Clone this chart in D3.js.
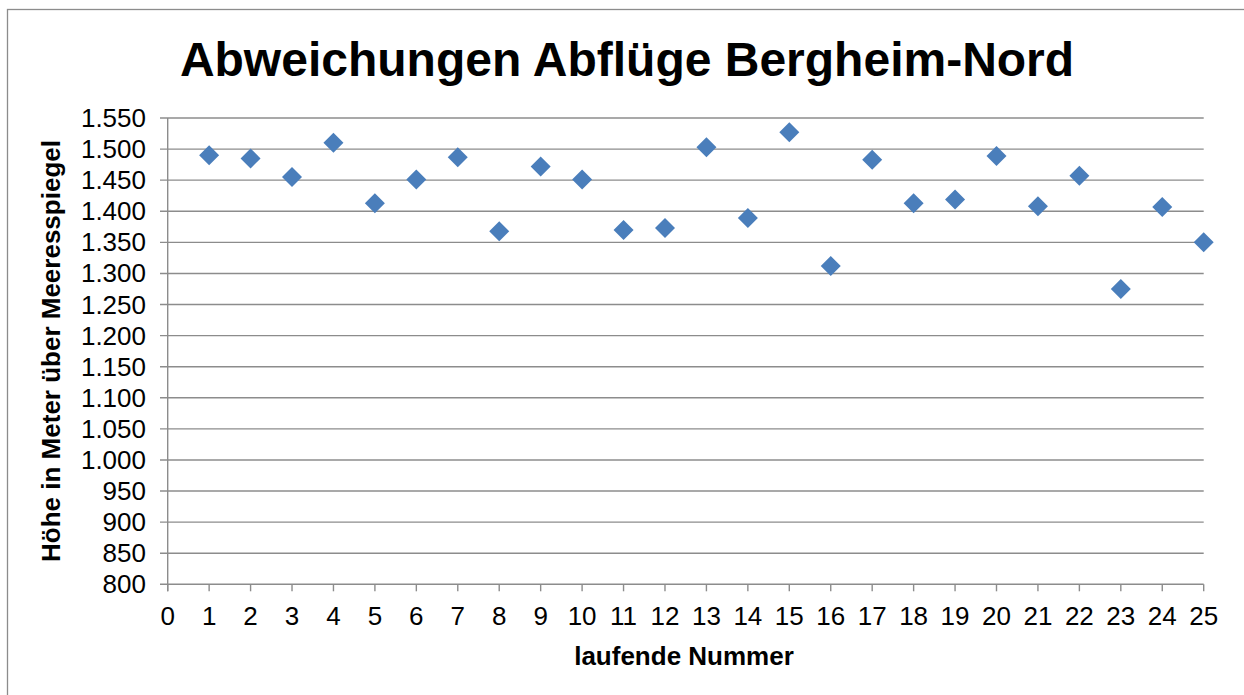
<!DOCTYPE html>
<html><head><meta charset="utf-8">
<script src="https://cdn.jsdelivr.net/npm/d3@7"></script>
<style>body{margin:0;background:#fff}svg{display:block}text{font-family:"Liberation Sans",Arial,sans-serif}</style>
</head><body>
<script>
const numbers = d3.range(1, 26);
const heights = [1490,1485,1455,1510,1413,1451,1487,1368,1472,1451,1370,1373,1503,1389,1527,1312,1483,1413,1419,1489,1408,1457,1275,1407,1350];
const yTicks = d3.range(800, 1551, 50);
const xTicks = d3.range(0, 26, 1);
const title = "Abweichungen Abflüge Bergheim-Nord";
const xTitle = "laufende Nummer";
const yTitle = "Höhe in Meter über Meeresspiegel";

const W = 1244, H = 695;
const svg = d3.select("body").append("svg").attr("width", W).attr("height", H);
svg.append("rect").attr("x", 7.5).attr("y", 9.5).attr("width", W + 10).attr("height", H + 10)
  .attr("fill", "none").attr("stroke", "#8c8c8c").attr("stroke-width", 1.3);

const x = d3.scaleLinear().domain([0, 25]).range([167.7, 1203.7]);
const y = d3.scaleLinear().domain([800, 1550]).range([584.3, 118]);
const fmt = d => d3.format(",")(d).replace(/,/g, ".");

// gridlines
svg.append("g").selectAll("line").data(yTicks).join("line")
  .attr("x1", 160).attr("x2", x(25)).attr("y1", d => y(d)).attr("y2", d => y(d))
  .attr("stroke", "#8c8c8c").attr("stroke-width", 1.4);

// y axis line
svg.append("line").attr("x1", x(0)).attr("x2", x(0)).attr("y1", y(1550)).attr("y2", y(800) + 7)
  .attr("stroke", "#8c8c8c").attr("stroke-width", 1.4);
// x ticks
svg.append("g").selectAll("line").data(xTicks).join("line")
  .attr("x1", d => x(d)).attr("x2", d => x(d)).attr("y1", y(800)).attr("y2", y(800) + 7)
  .attr("stroke", "#8c8c8c").attr("stroke-width", 1.4);

// tick labels
svg.append("g").selectAll("text").data(yTicks).join("text")
  .attr("x", 146).attr("y", d => y(d) + 9).attr("text-anchor", "end")
  .attr("font-size", 26).attr("fill", "#000").text(fmt);
svg.append("g").selectAll("text").data(xTicks).join("text")
  .attr("x", d => x(d)).attr("y", 625).attr("text-anchor", "middle")
  .attr("font-size", 26).attr("fill", "#000").text(d => d);

// titles
svg.append("text").attr("x", 627).attr("y", 76).attr("text-anchor", "middle")
  .attr("font-size", 48).attr("font-weight", "bold").text(title);
svg.append("text").attr("x", 684).attr("y", 665).attr("text-anchor", "middle")
  .attr("font-size", 26).attr("font-weight", "bold").text(xTitle);
svg.append("text").attr("transform", "translate(60,351) rotate(-90)").attr("text-anchor", "middle")
  .attr("font-size", 26).attr("font-weight", "bold").text(yTitle);

// points
const r = 10;
svg.append("g").selectAll("path").data(heights).join("path")
  .attr("transform", (d, i) => `translate(${x(numbers[i])},${y(d)})`)
  .attr("d", `M0,${-r}L${r},0L0,${r}L${-r},0Z`)
  .attr("fill", "#4a7ebb");
</script>
</body></html>
